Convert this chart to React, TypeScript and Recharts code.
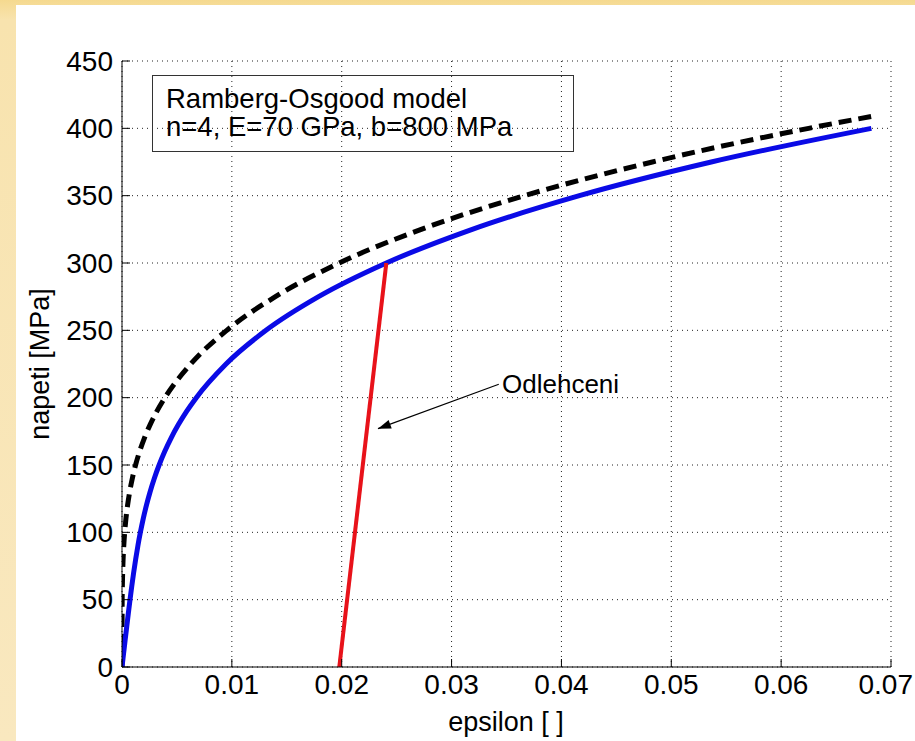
import { LineChart, Line, XAxis, YAxis, CartesianGrid, ReferenceLine } from 'recharts';

const FONT = '"Liberation Sans", Arial, Helvetica, sans-serif';

// stress levels [MPa] and total strain read along the solid (blue) curve
const stressLevels = [0, 10, 20, 30, 40, 50, 60, 70, 80, 90, 100, 110, 120, 130, 140, 150, 160, 170, 180, 190, 200, 225, 250, 275, 300, 325, 350, 375, 400];
const totalStrain = [0, 0.000143, 0.000286, 0.000431, 0.000578, 0.00073, 0.000889, 0.001059, 0.001243, 0.001446, 0.001673, 0.001929, 0.002221, 0.002554, 0.002938, 0.003379, 0.003886, 0.004468, 0.005134, 0.005896, 0.006763, 0.009471, 0.013108, 0.017892, 0.024061, 0.031881, 0.041636, 0.053636, 0.068214];

// dashed (black) curve
const plasticStress = [0, 50, 60, 70, 80, 90, 100, 110, 120, 130, 140, 150, 160, 170, 180, 190, 200, 225, 250, 275, 300, 325, 350, 375, 400, 409];
const plasticStrain = [0, 0.000015, 0.000032, 0.000059, 0.0001, 0.00016, 0.000244, 0.000357, 0.000506, 0.000697, 0.000938, 0.001236, 0.0016, 0.002039, 0.002563, 0.003182, 0.003906, 0.006257, 0.009537, 0.013963, 0.019775, 0.027238, 0.036636, 0.048279, 0.0625, 0.06832];

// unloading branch (red)
const unloadStress = [0, 300];
const unloadStrain = [0.01978, 0.02406];

const strainTicks = [0, 0.01, 0.02, 0.03, 0.04, 0.05, 0.06, 0.07];
const stressTicks = [0, 50, 100, 150, 200, 250, 300, 350, 400, 450];

const totalCurve = stressLevels.map((s, i) => ({ strain: totalStrain[i], stress: s }));
const plasticCurve = plasticStress.map((s, i) => ({ strain: plasticStrain[i], stress: s }));
const unloadCurve = unloadStress.map((s, i) => ({ strain: unloadStrain[i], stress: s }));

const XTick = ({ x, y, payload }: any) => {
    // keep the last label inside the picture
    const atEdge = x + 27 > 913;
    return (
        <g>
            <line x1={x} x2={x} y1={y} y2={y - 8} stroke="#000" strokeWidth={1} />
            <text x={atEdge ? 913 : x} y={y + 27} textAnchor={atEdge ? 'end' : 'middle'} fontSize={28} fontFamily={FONT} fill="#000">
                {String(payload.value)}
            </text>
        </g>
    );
};

const YTick = ({ x, y, payload }: any) => (
    <g>
        <line x1={x} x2={x + 8} y1={y} y2={y} stroke="#000" strokeWidth={1} />
        <text x={x - 9} y={y} textAnchor="end" dominantBaseline="central" fontSize={28} fontFamily={FONT} fill="#000">
            {String(payload.value)}
        </text>
    </g>
);

const Arrow = (props: any) => {
    const { x1, y1, x2, y2 } = props;
    const ang = Math.atan2(y2 - y1, x2 - x1);
    const len = 13;
    const w = 4.5;
    const bx = x2 - len * Math.cos(ang);
    const by = y2 - len * Math.sin(ang);
    const px = -Math.sin(ang) * w;
    const py = Math.cos(ang) * w;
    return (
        <g>
            <line x1={x1} y1={y1} x2={x2} y2={y2} stroke="#000" strokeWidth={1.2} />
            <polygon points={`${x2},${y2} ${bx + px},${by + py} ${bx - px},${by - py}`} fill="#000" />
        </g>
    );
};

export default function App() {
    return (
        <div style={{ position: 'absolute', left: 0, top: 0, width: 915, height: 741, overflow: 'hidden', background: 'linear-gradient(180deg, #f5d98f 0px, #f8e3ae 20px, #f9e8bf 100%)' }}>
            <div style={{ position: 'absolute', left: 16, top: 5, width: 899, height: 736, background: '#fff' }} />
            <div style={{ position: 'absolute', left: 0, top: 0 }}>
                <LineChart width={915} height={741} margin={{ top: 61, right: 24, bottom: 34, left: 22 }}>
                    <CartesianGrid stroke="#222" strokeDasharray="1 4" strokeWidth={1} />
                    <XAxis
                        dataKey="strain"
                        type="number"
                        domain={[0, 0.07]}
                        ticks={strainTicks}
                        interval={0}
                        height={40}
                        tickSize={0}
                        tickMargin={0}
                        tickLine={false}
                        axisLine={{ stroke: '#000', strokeWidth: 1 }}
                        tick={<XTick />}
                        allowDataOverflow
                    />
                    <YAxis
                        dataKey="stress"
                        type="number"
                        domain={[0, 450]}
                        ticks={stressTicks}
                        interval={0}
                        width={100}
                        tickSize={0}
                        tickMargin={0}
                        tickLine={false}
                        axisLine={{ stroke: '#000', strokeWidth: 1 }}
                        tick={<YTick />}
                        allowDataOverflow
                    />
                    <ReferenceLine
                        segment={[{ x: 0.0343, y: 210 }, { x: 0.0233, y: 177 }]}
                        shape={<Arrow />}
                        ifOverflow="visible"
                    />
                    <Line
                        data={plasticCurve}
                        dataKey="stress"
                        type="monotone"
                        stroke="#000"
                        strokeWidth={5}
                        strokeDasharray="13 7"
                        dot={false}
                        activeDot={false}
                        isAnimationActive={false}
                    />
                    <Line
                        data={totalCurve}
                        dataKey="stress"
                        type="monotone"
                        stroke="#0a0ae6"
                        strokeWidth={5}
                        dot={false}
                        activeDot={false}
                        isAnimationActive={false}
                    />
                    <Line
                        data={unloadCurve}
                        dataKey="stress"
                        type="linear"
                        stroke="#e8121a"
                        strokeWidth={4}
                        dot={false}
                        activeDot={false}
                        isAnimationActive={false}
                    />
                </LineChart>
            </div>
            <div style={{ position: 'absolute', left: 152, top: 75, width: 422, height: 77, border: '1.5px solid #333', fontFamily: FONT, fontSize: 27.5, lineHeight: '28px', color: '#000', padding: '9px 0 0 13px', boxSizing: 'border-box', whiteSpace: 'nowrap' }}>
                <div>Ramberg-Osgood model</div>
                <div>n=4, E=70 GPa, b=800 MPa</div>
            </div>
            <div style={{ position: 'absolute', left: 502, top: 369, fontFamily: FONT, fontSize: 26, lineHeight: '30px', color: '#000', whiteSpace: 'nowrap' }}>Odlehceni</div>
            <div style={{ position: 'absolute', left: 506, top: 722, transform: 'translate(-50%, -50%)', fontFamily: FONT, fontSize: 27, color: '#000', whiteSpace: 'nowrap' }}>epsilon [ ]</div>
            <div style={{ position: 'absolute', left: 40, top: 364, transform: 'translate(-50%, -50%) rotate(-90deg)', fontFamily: FONT, fontSize: 27, color: '#000', whiteSpace: 'nowrap' }}>napeti [MPa]</div>
        </div>
    );
}
